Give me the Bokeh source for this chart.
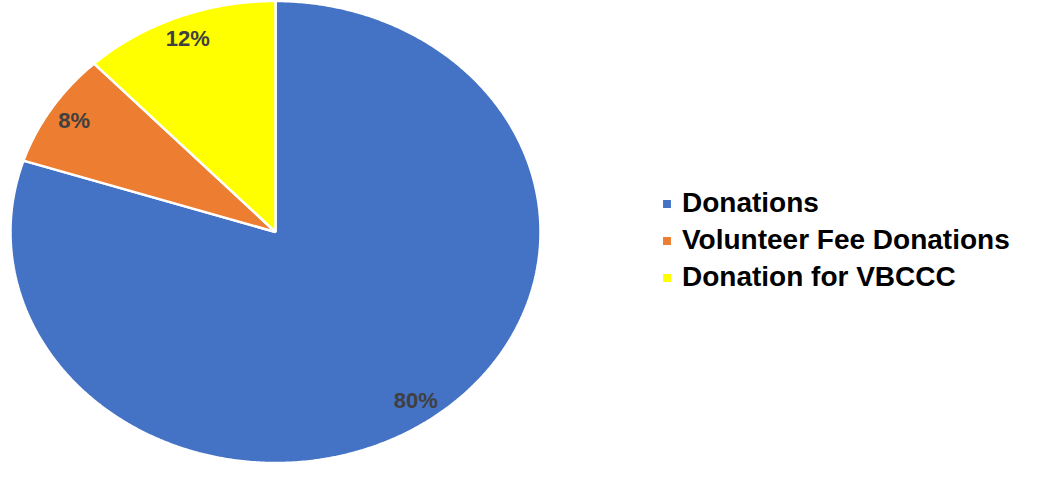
import numpy as np
from bokeh.plotting import figure
from bokeh.models import Range1d, Legend, LegendItem, ColumnDataSource
from bokeh.core.properties import value
from bokeh.embed import file_html
from bokeh.resources import INLINE

categories = ["Donations", "Volunteer Fee Donations", "Donation for VBCCC"]
values = [80, 8, 12]
labels = ["80%", "8%", "12%"]
colors = ["#4472C4", "#ED7D31", "#FFFF00"]

W, H = 1021, 463
cx_px, cy_px = 275.0, 231.5   # pie centre in figure pixels (from left / from top)
rx_px, ry_px = 265.0, 231.0   # pie radii in pixels

p = figure(width=W, height=H, output_backend="svg", toolbar_location=None,
           min_border=0, outline_line_color=None,
           x_range=Range1d(-cx_px / rx_px, (W - cx_px) / rx_px),
           y_range=Range1d(-(H - cy_px) / ry_px, cy_px / ry_px))
p.axis.visible = False
p.grid.visible = False
p.background_fill_color = "white"
p.border_fill_color = "white"

total = float(sum(values))
fr = np.array(values) / total
cum = np.concatenate([[0.0], np.cumsum(fr)])
starts = np.pi / 2 - 2 * np.pi * cum[:-1]
ends = np.pi / 2 - 2 * np.pi * cum[1:]

xs, ys = [], []
for a0, a1 in zip(starts, ends):
    n = max(int(abs(a1 - a0) / (2 * np.pi) * 720), 8)
    t = np.linspace(a0, a1, n)
    xs.append(np.concatenate([[0.0], np.cos(t), [0.0]]).tolist())
    ys.append(np.concatenate([[0.0], np.sin(t), [0.0]]).tolist())

src = ColumnDataSource(dict(xs=xs, ys=ys, color=colors, cat=categories))
r = p.patches("xs", "ys", source=src, fill_color="color", line_color="white", line_width=2.5)

mids = (starts + ends) / 2
lr = 0.9
lsrc = ColumnDataSource(dict(x=(lr * np.cos(mids)).tolist(), y=(lr * np.sin(mids)).tolist(), t=labels))
p.text("x", "y", text="t", source=lsrc, text_align="center", text_baseline="middle",
       text_font=value("Liberation Sans"), text_font_style="bold",
       text_font_size="22px", text_color="#404040")

legend = Legend(items=[LegendItem(label=c, renderers=[r], index=i) for i, c in enumerate(categories)],
                location=(660, 170), orientation="vertical",
                label_text_font="Liberation Sans", label_text_font_style="bold",
                label_text_font_size="28px", label_text_color="black",
                glyph_width=13, glyph_height=13, label_standoff=9, spacing=5,
                padding=0, margin=0, border_line_alpha=0, background_fill_alpha=0)
p.add_layout(legend)

open("out.html", "w").write(file_html(p, INLINE))
